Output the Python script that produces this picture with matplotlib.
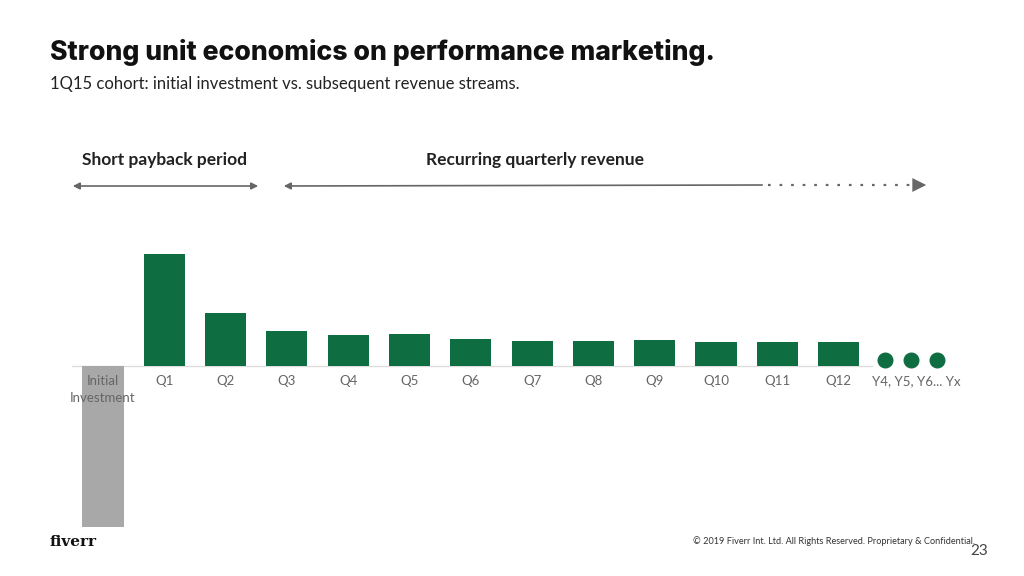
import matplotlib
matplotlib.use('Agg')
import matplotlib.pyplot as plt
from matplotlib.patches import FancyArrowPatch

# data (arbitrary units)
labels = ['Initial\nInvestment', 'Q1', 'Q2', 'Q3', 'Q4', 'Q5', 'Q6',
          'Q7', 'Q8', 'Q9', 'Q10', 'Q11', 'Q12']
values = [-161, 112, 53, 35, 31, 32, 27, 25, 25, 26, 24, 24, 24]
dots_x = [12.76, 13.18, 13.6]
dots_y = [6, 6, 6]

W, H = 1024, 576
fig = plt.figure(figsize=(W / 100, H / 100), dpi=100)
plt.rcParams['font.family'] = ['Lato', 'DejaVu Sans']

def fx(px):
    return px / W

def fy(py):
    return 1 - py / H

# axes fill the whole figure, limits chosen so bars land where they should
ax = fig.add_axes([0, 0, 1, 1])
step = 61.3
x0 = 103
ax.set_xlim(-x0 / step, (W - x0) / step)
ax.set_ylim(-(H - 366), 366)
ax.axis('off')

green = '#0f6e41'
grey = '#a8a8a8'
colors = [grey] + [green] * 12
xs = list(range(len(values)))
ax.bar(xs, values, width=0.67, color=colors, zorder=2)
ax.plot([(72 - x0) / step, (872 - x0) / step], [0, 0], color='#dddddd', lw=1, zorder=1)
ax.scatter(dots_x, dots_y, s=110, color=green, zorder=3)

for i, lab in enumerate(labels):
    ax.text(i, -9, lab, ha='center', va='top', fontsize=9.5, color='#666666',
            linespacing=1.45, zorder=4)
ax.text(13.27, -9, 'Y4, Y5, Y6... Yx', ha='center', va='top', fontsize=9.5, color='#666666')

# title block
fig.text(fx(50), fy(52), 'Strong unit economics on performance marketing.',
         fontsize=19.2, fontweight='heavy', family='Inter', color='#111111', va='center')
fig.text(fx(50), fy(84), '1Q15 cohort: initial investment vs. subsequent revenue streams.',
         fontsize=12, color='#222222', va='center')

# period annotations
fig.text(fx(165), fy(160), 'Short payback period', fontsize=12.5, fontweight='bold',
         color='#222222', ha='center', va='center')
fig.text(fx(535), fy(160), 'Recurring quarterly revenue', fontsize=12.5, fontweight='bold',
         color='#222222', ha='center', va='center')

arr_col = '#666666'
a1 = FancyArrowPatch((fx(70), fy(186)), (fx(261), fy(186)), transform=fig.transFigure,
                     arrowstyle='<|-|>,head_length=4,head_width=2', color=arr_col, lw=1.2)
fig.patches.append(a1)
a2 = FancyArrowPatch((fx(765), fy(185)), (fx(281), fy(186)), transform=fig.transFigure,
                     arrowstyle='-|>,head_length=4,head_width=2', color=arr_col, lw=1.2)
fig.patches.append(a2)
fig.lines.append(plt.Line2D([fx(768), fx(913)], [fy(185), fy(185)], transform=fig.transFigure,
                            color=arr_col, lw=1.6, linestyle=(0, (1.2, 4))))
a3 = FancyArrowPatch((fx(905), fy(185)), (fx(929), fy(185)), transform=fig.transFigure,
                     arrowstyle='-|>,head_length=10,head_width=5', color=arr_col, lw=0)
fig.patches.append(a3)

# footer
fig.text(fx(50), fy(542), 'fiverr', fontsize=11, fontweight='bold', family='DejaVu Serif',
         color='#111111', va='center')
fig.text(fx(975), fy(541), '\u00a9 2019 Fiverr Int. Ltd. All Rights Reserved. Proprietary & Confidential.',
         fontsize=6.6, color='#333333', ha='right', va='center')
fig.text(fx(988), fy(551), '23', fontsize=11, color='#444444', ha='right', va='center')

fig.savefig('out.png', dpi=100)
